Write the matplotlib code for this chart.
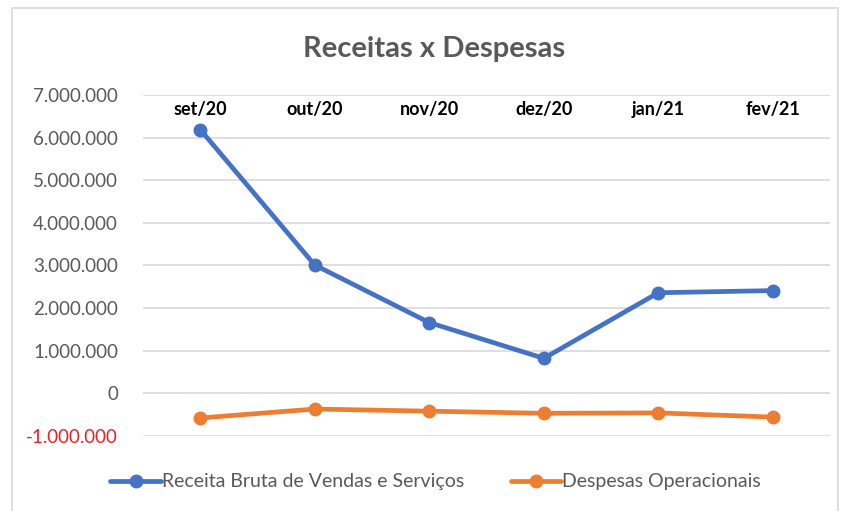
import matplotlib.pyplot as plt
from matplotlib.patches import Rectangle
from matplotlib.ticker import FuncFormatter

months = ['set/20', 'out/20', 'nov/20', 'dez/20', 'jan/21', 'fev/21']
receita = [6190000, 3010000, 1660000, 820000, 2360000, 2410000]
despesas = [-580000, -370000, -420000, -470000, -460000, -560000]

plt.rcParams['font.family'] = ['Lato', 'DejaVu Sans']

fig = plt.figure(figsize=(8.41, 5.11), dpi=100)
ax = fig.add_axes([0.170, 0.147, 0.817, 0.667])

# chart frame
fig.patches.append(Rectangle((0.014, -0.01), 0.983, 0.995, transform=fig.transFigure,
                             fill=False, edgecolor='#d9d9d9', linewidth=1.2))

x = range(len(months))
ax.plot(x, receita, color='#4472C4', linewidth=3.4, marker='o', markersize=9,
        label='Receita Bruta de Vendas e Serviços', solid_capstyle='round')
ax.plot(x, despesas, color='#ED7D31', linewidth=3.4, marker='o', markersize=9,
        label='Despesas Operacionais', solid_capstyle='round')

ax.set_xlim(-0.5, len(months) - 0.5)
ax.set_ylim(-1000000, 7000000)
ax.set_yticks(range(-1000000, 7000001, 1000000))
ax.yaxis.set_major_formatter(FuncFormatter(lambda v, p: f'{int(v):,}'.replace(',', '.')))
ax.tick_params(axis='y', length=0, labelsize=13.5, labelcolor='#595959', pad=18)
ax.set_xticks([])
ax.grid(axis='y', color='#d9d9d9', linewidth=1.2)
ax.set_axisbelow(True)
for s in ax.spines.values():
    s.set_visible(False)

# category labels sit near the top of the plot
for i, m in enumerate(months):
    ax.text(i, 6650000, m, ha='center', va='center', fontsize=13,
            fontweight='bold', color='black')

fig.text(0.516, 0.905, 'Receitas x Despesas', ha='center', va='center',
         fontsize=21, fontweight='bold', color='#595959')

fig.legend(loc='center', bbox_to_anchor=(0.518, 0.057), ncol=2, frameon=False,
           fontsize=14, labelcolor='#595959', handlelength=2.6, handletextpad=0.05,
           columnspacing=2.4)

fig.canvas.draw()
for lbl in ax.get_yticklabels():
    if lbl.get_text().startswith('\u2212') or lbl.get_text().startswith('-'):
        lbl.set_color('#e8202a')

fig.savefig('out.png', dpi=100)
